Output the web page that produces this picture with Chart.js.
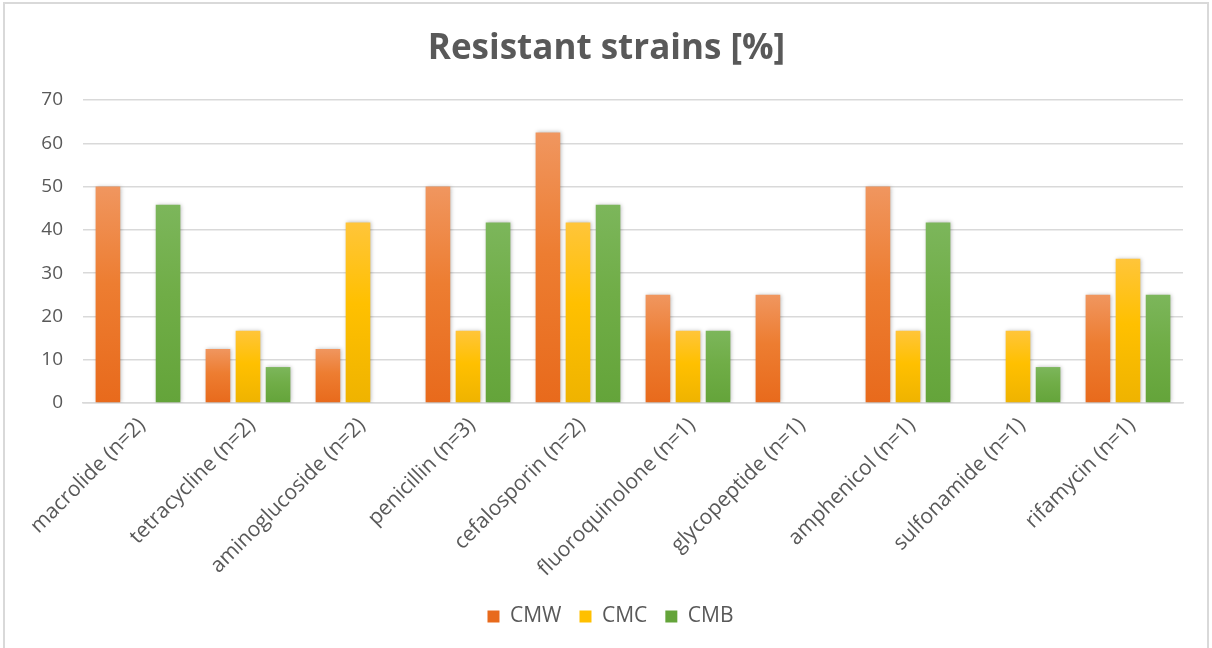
<!DOCTYPE html>
<html>
<head>
<meta charset="utf-8">
<title>Resistant strains [%]</title>
<script src="https://cdn.jsdelivr.net/npm/chart.js@4/dist/chart.umd.min.js"></script>
<style>
    html, body { margin: 0; padding: 0; background: #ffffff; }
    #wrap { position: relative; width: 1212px; height: 648px; }
    #frame {
        position: absolute; left: 3px; top: 2px; width: 1202px; height: 650px;
        border: 2px solid #d9d9d9; pointer-events: none;
    }
</style>
</head>
<body>
<div id="wrap">
    <canvas id="grafico" width="1212" height="648"></canvas>
    <div id="frame"></div>
</div>
<script>
// Datos del gráfico
const categorias = [
    'macrolide (n=2)', 'tetracycline (n=2)', 'aminoglucoside (n=2)', 'penicillin (n=3)',
    'cefalosporin (n=2)', 'fluoroquinolone (n=1)', 'glycopeptide (n=1)', 'amphenicol (n=1)',
    'sulfonamide (n=1)', 'rifamycin (n=1)'
];
const serieCMW = [50, 12.5, 12.5, 50, 62.5, 25, 25, 50, 0, 25];
const serieCMC = [0, 16.7, 41.7, 16.7, 41.7, 16.7, 0, 16.7, 16.7, 33.3];
const serieCMB = [45.8, 8.3, 0, 41.7, 45.8, 16.7, 0, 41.7, 8.3, 25];
const ticksY = [0, 10, 20, 30, 40, 50, 60, 70];

const FUENTE = '"Open Sans", "Noto Sans", sans-serif';
const GRIS = '#595959';

/**
 * Devuelve un color de relleno con degradado vertical para cada barra
 * (más claro arriba, más oscuro abajo, como en Excel)
 */
function degradado(solido, claro, oscuro) {
    return function (context) {
        if (context.type !== 'data') return solido;
        const chart = context.chart;
        const y = chart.scales.y;
        if (!y) return solido;
        const top = y.getPixelForValue(context.raw);
        const base = y.getPixelForValue(0);
        if (!isFinite(top) || Math.abs(base - top) < 1) return solido;
        const g = chart.ctx.createLinearGradient(0, top, 0, base);
        g.addColorStop(0, claro);
        g.addColorStop(0.45, solido);
        g.addColorStop(1, oscuro);
        return g;
    };
}

// Sombra suave detrás de las barras
const sombraBarras = {
    id: 'sombraBarras',
    beforeDatasetsDraw(chart) {
        const ctx = chart.ctx;
        ctx.save();
        ctx.shadowColor = 'rgba(0, 0, 0, 0.28)';
        ctx.shadowBlur = 4;
        ctx.shadowOffsetX = 1;
        ctx.shadowOffsetY = 0;
    },
    afterDatasetsDraw(chart) {
        chart.ctx.restore();
    }
};

// Centrar título y leyenda respecto al ancho total, como en el original
const centrarCajas = {
    id: 'centrarCajas',
    afterLayout(chart) {
        const legend = chart.legend;
        if (legend) {
            legend.left += 19;
            legend.right += 19;
        }
        const title = chart.titleBlock;
        if (title) {
            title.left += 15;
            title.right += 15;
        }
    }
};

const canvas = document.getElementById('grafico');

new Chart(canvas, {
    type: 'bar',
    data: {
        labels: categorias,
        datasets: [
            {
                label: 'CMW',
                data: serieCMW,
                backgroundColor: degradado('#ED7D31', '#F0965F', '#E86A1C')
            },
            {
                label: 'CMC',
                data: serieCMC,
                backgroundColor: degradado('#FFC000', '#FFC53A', '#EFB300')
            },
            {
                label: 'CMB',
                data: serieCMB,
                backgroundColor: degradado('#70AD47', '#7CB65B', '#64A43A')
            }
        ]
    },
    options: {
        responsive: false,
        animation: false,
        categoryPercentage: 0.82,
        barPercentage: 0.82,
        layout: {
            padding: { left: 0, right: 29, top: 19, bottom: 11 }
        },
        plugins: {
            title: {
                display: true,
                text: 'Resistant strains [%]',
                color: GRIS,
                font: { family: FUENTE, size: 35, weight: 'bold' },
                padding: { top: 9, bottom: 30 }
            },
            legend: {
                position: 'bottom',
                labels: {
                    color: GRIS,
                    font: { family: FUENTE, size: 21 },
                    boxWidth: 12,
                    boxHeight: 12,
                    padding: 18
                }
            },
            tooltip: { enabled: false }
        },
        scales: {
            x: {
                grid: { display: false },
                border: { display: true, color: '#d9d9d9', width: 1.5 },
                ticks: {
                    color: GRIS,
                    font: { family: FUENTE, size: 21 },
                    minRotation: 45,
                    maxRotation: 45,
                    autoSkip: false,
                    padding: 2,
                    labelOffset: 4
                },
                afterFit(scale) { scale.height = 185; }
            },
            y: {
                min: 0,
                max: 70,
                afterBuildTicks(scale) {
                    scale.ticks = ticksY.map(v => ({ value: v }));
                },
                grid: { color: '#d9d9d9', lineWidth: 1.5, drawTicks: false },
                border: { display: false },
                ticks: {
                    color: GRIS,
                    font: { family: FUENTE, size: 19 },
                    padding: 20
                },
                afterFit(scale) { scale.width = 83; }
            }
        }
    },
    plugins: [sombraBarras, centrarCajas]
});
</script>
</body>
</html>
